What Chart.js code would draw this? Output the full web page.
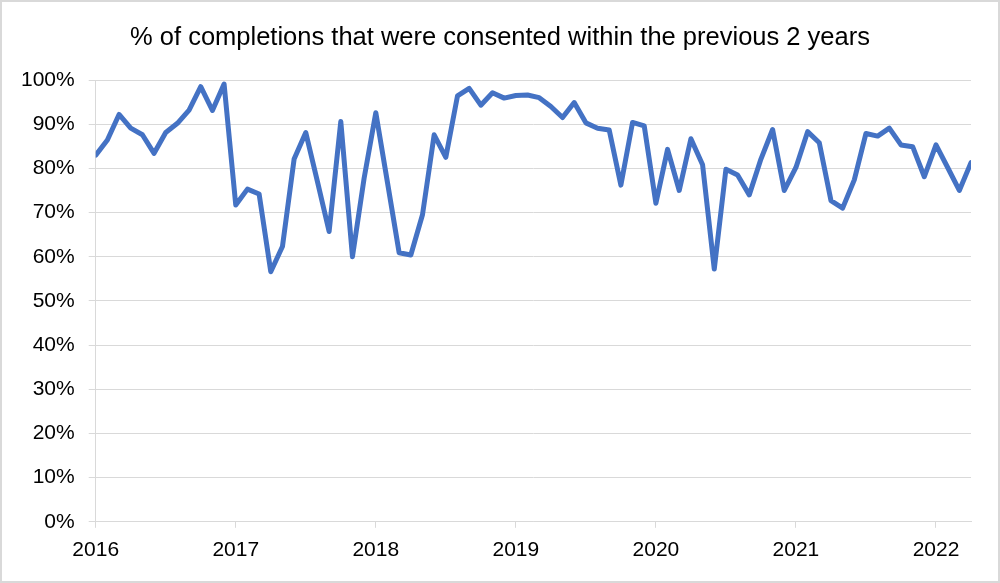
<!DOCTYPE html>
<html>
<head>
<meta charset="utf-8">
<script src="https://cdn.jsdelivr.net/npm/chart.js@4"></script>
<style>
    html, body { margin: 0; padding: 0; background: #fff; }
    #wrap { width: 1000px; height: 583px; }
</style>
</head>
<body>
<div id="wrap"><canvas id="chart" width="1000" height="583"></canvas></div>
<script>
const firstYear = 2016;
const chartTitle = '% of completions that were consented within the previous 2 years';

// monthly values, Jan 2016 .. Apr 2022 (%)
const pct2016 = [83.0, 86.4, 92.2, 89.1, 87.6, 83.4, 88.1, 90.2, 93.2, 98.5, 93.1, 99.1];
const pct2017 = [71.7, 75.3, 74.2, 56.6, 62.3, 82.1, 88.1, 77.0, 65.7, 90.6, 60.0, 77.8];
const pct2018 = [92.6, 76.8, 60.9, 60.4, 69.5, 87.6, 82.5, 96.4, 98.1, 94.3, 97.1, 95.9];
const pct2019 = [96.5, 96.6, 96.0, 94.0, 91.5, 94.9, 90.3, 89.1, 88.7, 76.2, 90.4, 89.6];
const pct2020 = [72.1, 84.3, 75.0, 86.7, 80.8, 57.2, 79.8, 78.5, 74.0, 82.1, 88.8, 75.0];
const pct2021 = [80.2, 88.3, 85.8, 72.7, 71.0, 77.4, 87.9, 87.3, 89.1, 85.3, 84.9, 78.1];
const pct2022 = [85.3, 80.2, 75.0, 81.3];

const values = [...pct2016, ...pct2017, ...pct2018, ...pct2019, ...pct2020, ...pct2021, ...pct2022];
const yearTicks = [0, 12, 24, 36, 48, 60, 72]; // month index of each January
const yTicks = [0, 10, 20, 30, 40, 50, 60, 70, 80, 90, 100];

const points = values.map((v, i) => ({ x: i, y: v }));

// outer frame + title centred on the whole canvas (like the Excel chart)
const frame = {
    id: 'frame',
    afterDraw(chart) {
        const ctx = chart.ctx;
        ctx.save();
        ctx.strokeStyle = '#d9d9d9';
        ctx.lineWidth = 2;
        ctx.strokeRect(1, 1, chart.width - 2, chart.height - 2);
        ctx.fillStyle = '#000';
        ctx.font = '25.5px "Liberation Sans", Arial, sans-serif';
        ctx.textAlign = 'center';
        ctx.textBaseline = 'middle';
        ctx.fillText(chartTitle, chart.width / 2, 38);
        ctx.restore();
    }
};

Chart.defaults.font.family = '"Liberation Sans", Arial, sans-serif';
Chart.defaults.color = '#000';

new Chart(document.getElementById('chart'), {
    type: 'line',
    data: {
        datasets: [{
            data: points,
            borderColor: '#4472c4',
            borderWidth: 5,
            borderJoinStyle: 'round',
            borderCapStyle: 'round',
            pointRadius: 0,
            tension: 0,
        }]
    },
    options: {
        responsive: false,
        animation: false,
        layout: { padding: { left: 7, right: 29, top: 80, bottom: 10 } },
        plugins: {
            legend: { display: false },
            tooltip: { enabled: false },
            title: { display: false },
        },
        scales: {
            x: {
                type: 'linear',
                min: 0,
                max: values.length - 1,
                afterBuildTicks: axis => {
                    axis.ticks = yearTicks.map(v => ({ value: v }));
                },
                ticks: {
                    font: { size: 21 },
                    padding: 10,
                    maxRotation: 0,
                    autoSkip: false,
                    callback: v => String(firstYear + v / 12),
                },
                grid: { drawOnChartArea: false, drawTicks: true, tickLength: 6, color: '#d9d9d9' },
                border: { display: true, color: '#d9d9d9', width: 1 },
            },
            y: {
                min: 0,
                max: 100,
                afterBuildTicks: axis => {
                    axis.ticks = yTicks.map(v => ({ value: v }));
                },
                ticks: {
                    font: { size: 21 },
                    padding: 14,
                    callback: v => v + '%',
                },
                grid: { color: '#d9d9d9', tickLength: 7 },
                border: { display: true, color: '#d9d9d9', width: 1 },
            },
        },
    },
    plugins: [frame],
});
</script>
</body>
</html>
